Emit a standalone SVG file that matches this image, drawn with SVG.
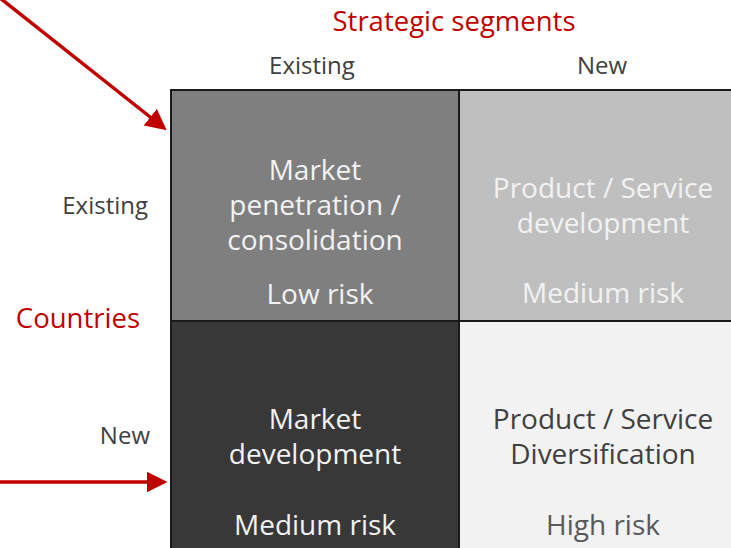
<svg xmlns="http://www.w3.org/2000/svg" width="731" height="548" viewBox="0 0 731 548">
<style>
  text { font-family: "Open Sans", "Lato", "Liberation Sans", sans-serif; text-anchor: middle; }
  .hdr { font-size: 27.5px; fill: #c00000; }
  .axis { font-size: 24px; fill: #404040; }
  .cell { font-size: 28px; }
  .light { fill: #f2f2f2; }
  .dark { fill: #404040; }
  .mid { fill: #595959; }
  .box { stroke: #1a1a1a; stroke-width: 2; }
  .arrow { stroke: #c00000; stroke-width: 3.5; fill: none; }
</style>
<defs>
  <marker id="ah" markerWidth="6" markerHeight="6" refX="5" refY="3" orient="auto" markerUnits="strokeWidth">
    <path d="M0,0 L6,3 L0,6 z" fill="#c00000"/>
  </marker>
</defs>
<rect width="731" height="548" fill="#ffffff"/>
<text class="hdr" x="454" y="31">Strategic segments</text>
<text class="axis" x="312" y="74">Existing</text>
<text class="axis" x="602" y="74">New</text>
<text class="axis" x="148" y="214" style="text-anchor:end">Existing</text>
<text class="hdr" x="140" y="328" style="text-anchor:end">Countries</text>
<text class="axis" x="150" y="444" style="text-anchor:end">New</text>
<g id="cell-tl">
  <rect class="box" x="171" y="90" width="288" height="231" fill="#7f7f7f"/>
  <text class="cell light" x="315" y="180">Market<tspan x="315" dy="35">penetration /</tspan><tspan x="315" dy="35">consolidation</tspan></text>
  <text class="cell light" x="320" y="304">Low risk</text>
</g>
<g id="cell-tr">
  <rect class="box" x="459" y="90" width="290" height="231" fill="#bfbfbf"/>
  <text class="cell light" x="603" y="197.5">Product / Service<tspan x="603" dy="35">development</tspan></text>
  <text class="cell light" x="603" y="303">Medium risk</text>
</g>
<g id="cell-bl">
  <rect class="box" x="171" y="321" width="288" height="240" fill="#383838"/>
  <text class="cell light" x="315" y="428.5">Market<tspan x="315" dy="35">development</tspan></text>
  <text class="cell light" x="315" y="535">Medium risk</text>
</g>
<g id="cell-br">
  <rect class="box" x="459" y="321" width="290" height="240" fill="#f2f2f2"/>
  <text class="cell dark" x="603" y="428.5">Product / Service<tspan x="603" dy="35">Diversification</tspan></text>
  <text class="cell mid" x="603" y="535">High risk</text>
</g>
<g id="connectors">
  <line class="arrow" x1="0" y1="-2" x2="164" y2="128" marker-end="url(#ah)"/>
  <line class="arrow" x1="0" y1="482" x2="164" y2="482" marker-end="url(#ah)"/>
</g>
</svg>
